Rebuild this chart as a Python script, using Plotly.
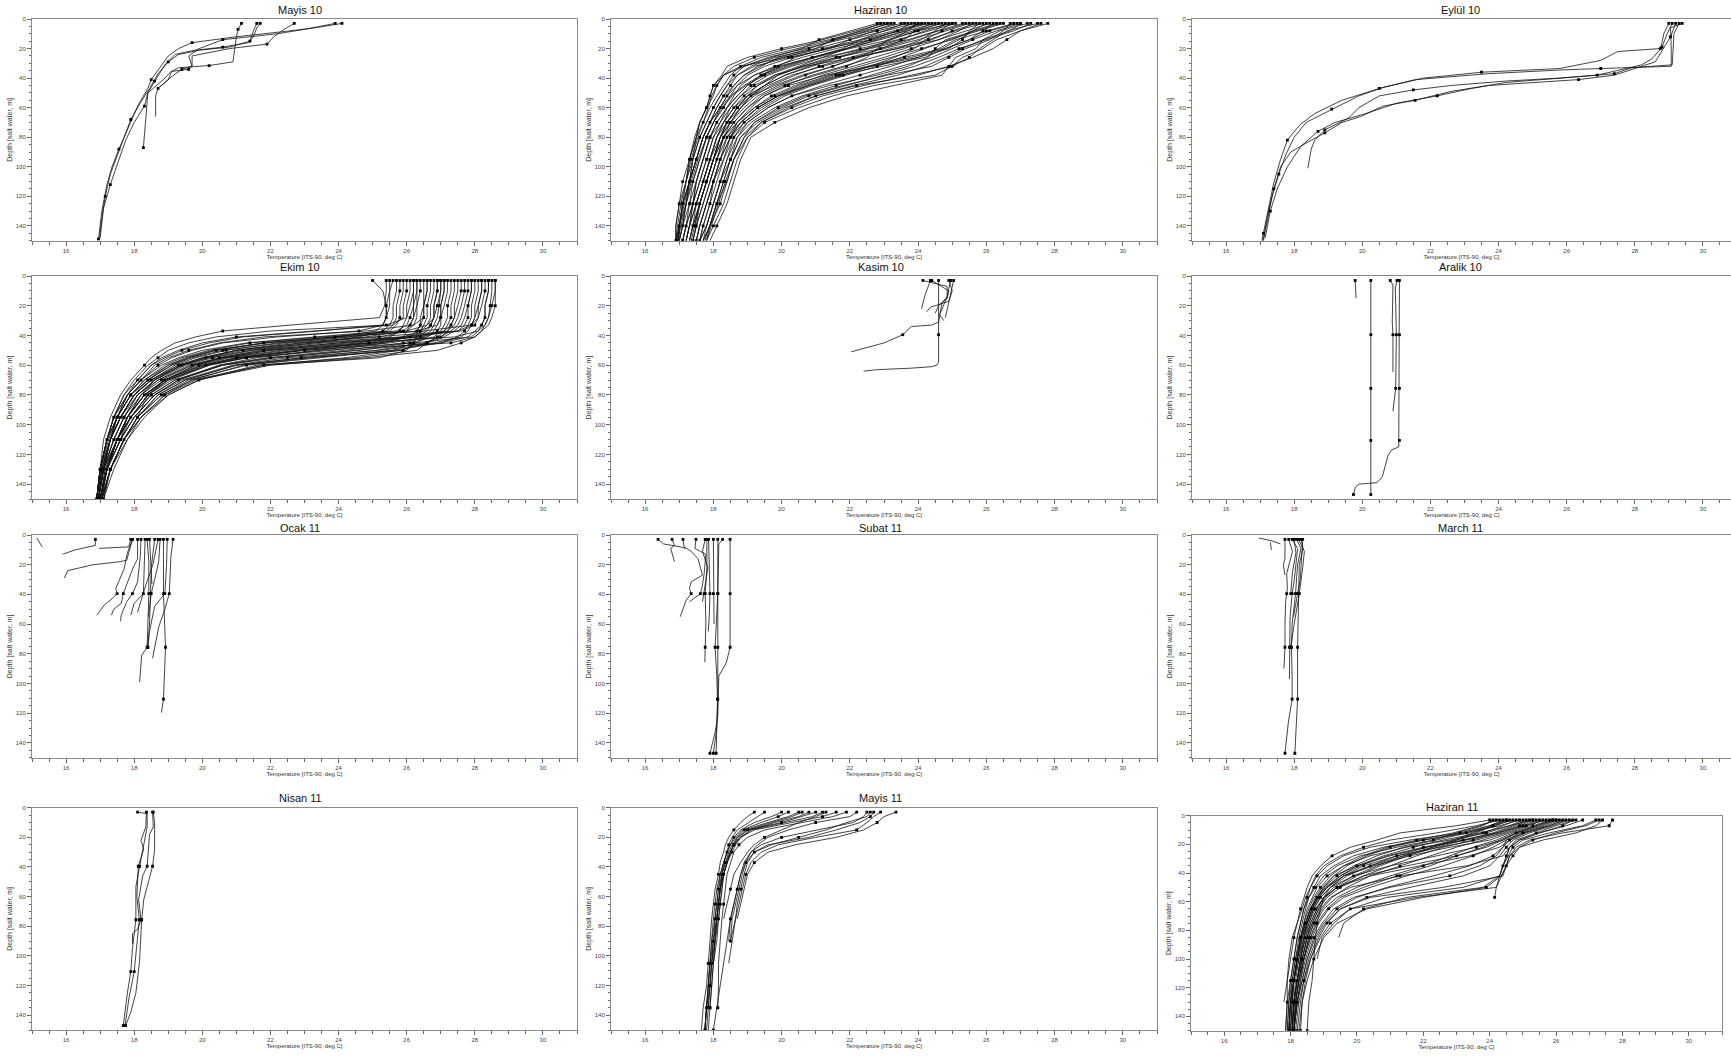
import plotly.graph_objects as go

# ---------------- DATA (temperature, deg C ; depth, m) ----------------
STD_DEPTHS = (3, 39.5, 75.6, 110.6, 147)

# Mayis 10 : (temps, depths)
MAYIS10 = [
    ([24.1, 23.3, 22.4, 21.0, 19.7, 19.3, 19.0, 18.75, 18.5, 18.4, 18.1, 17.8, 17.55, 17.35, 17.2, 17.05, 16.95],
     [3, 6, 8.5, 12, 16, 20, 25, 33, 41, 47, 59, 75, 88, 100, 112, 130, 149]),
    ([23.9, 23.0, 22.2, 20.6, 19.8, 19.2, 18.9, 18.6, 18.4, 18.35, 18.3, 18.27],
     [3, 7, 10, 14, 21, 24, 31, 42, 50, 65, 80, 87]),
    ([21.6, 21.5, 21.4, 20.8, 19.95, 19.3, 19.0, 18.7, 18.45, 18.2, 17.9, 17.7, 17.5, 17.3, 17.15, 17.05, 16.98],
     [3, 8, 15, 19, 21, 24, 29, 37, 47, 56, 68, 80, 92, 105, 120, 135, 149]),
    ([21.15, 21.05, 21.0, 20.95, 20.9, 20.2, 19.3, 19.1, 19.0, 18.7, 18.63, 18.63],
     [3, 7, 12, 21, 29, 31.5, 33, 35.5, 41, 47, 52, 66]),
    ([21.7, 21.6, 21.5, 21.35, 20.6, 19.85, 19.6, 19.7, 19.6, 19.08, 18.86, 18.4, 18.3, 18.0, 17.75, 17.5, 17.3, 17.1, 17.0],
     [3, 6, 12, 16, 19, 21, 25, 32, 34, 35.5, 41, 50, 59, 70, 82, 98, 112, 128, 148]),
    ([22.7, 22.4, 22.1, 21.9, 20.8, 19.7, 19.7, 19.4, 19.1, 18.75],
     [3, 7, 12, 17, 20, 25, 32, 34, 39, 46]),
]

# Haziran 10 : common depth grid, one temperature list per cast
HAZIRAN10_D = [3, 8, 14, 20, 26, 32, 38, 45, 52, 60, 70, 80, 95, 110, 125, 140, 150]
HAZIRAN10_T = [
    [27.8, 27.0, 26.3, 25.9, 25.3, 25.0, 24.5, 22.7, 21.5, 20.5, 19.5, 19.0, 18.7, 18.5, 18.3, 18.0, 17.8],
    [27.5, 26.6, 26.2, 25.8, 25.5, 25.0, 23.8, 22.4, 21.2, 20.3, 19.4, 18.9, 18.6, 18.4, 18.2, 17.9, 17.8],
    [27.3, 26.8, 26.0, 25.2, 24.6, 23.9, 23.0, 21.9, 20.8, 20.0, 19.2, 18.8, 18.5, 18.3, 18.1, 17.9, 17.7],
    [27.0, 26.3, 25.6, 25.0, 24.4, 23.5, 22.6, 21.6, 20.6, 19.8, 19.1, 18.7, 18.5, 18.2, 18.0, 17.8, 17.7],
    [26.8, 26.0, 25.1, 24.6, 24.0, 23.2, 22.3, 21.2, 20.3, 19.6, 19.0, 18.6, 18.4, 18.2, 18.0, 17.8, 17.6],
    [26.5, 25.8, 24.9, 24.2, 23.5, 22.8, 21.9, 20.9, 20.1, 19.5, 18.9, 18.6, 18.3, 18.1, 17.9, 17.7, 17.6],
    [26.3, 25.6, 25.2, 24.7, 23.6, 22.5, 21.5, 20.6, 19.9, 19.3, 18.8, 18.5, 18.3, 18.0, 17.9, 17.7, 17.6],
    [26.1, 25.4, 24.6, 23.8, 23.0, 22.1, 21.2, 20.4, 19.7, 19.2, 18.7, 18.4, 18.2, 18.0, 17.8, 17.6, 17.5],
    [25.9, 25.1, 24.3, 23.6, 22.7, 21.8, 20.9, 20.1, 19.5, 19.0, 18.6, 18.3, 18.1, 17.9, 17.7, 17.5, 17.4],
    [25.7, 25.0, 24.4, 23.2, 22.3, 21.5, 20.7, 19.9, 19.3, 18.9, 18.5, 18.3, 18.0, 17.8, 17.6, 17.5, 17.4],
    [25.5, 24.8, 24.0, 23.0, 22.0, 21.1, 20.4, 19.7, 19.2, 18.8, 18.4, 18.2, 18.0, 17.8, 17.6, 17.4, 17.3],
    [25.3, 24.6, 23.7, 22.6, 21.7, 20.9, 20.1, 19.5, 19.0, 18.7, 18.4, 18.1, 17.9, 17.7, 17.5, 17.4, 17.3],
    [25.1, 24.3, 23.4, 22.3, 21.4, 20.6, 19.9, 19.3, 18.9, 18.6, 18.3, 18.1, 17.9, 17.7, 17.5, 17.3, 17.2],
    [24.9, 24.2, 23.5, 22.5, 21.2, 20.3, 19.6, 19.1, 18.8, 18.5, 18.2, 18.0, 17.8, 17.6, 17.4, 17.3, 17.2],
    [24.7, 23.9, 22.9, 21.9, 20.9, 20.0, 19.4, 19.0, 18.7, 18.4, 18.2, 17.9, 17.7, 17.5, 17.4, 17.2, 17.1],
    [24.5, 23.7, 22.7, 21.6, 20.6, 19.8, 19.2, 18.8, 18.6, 18.4, 18.1, 17.9, 17.7, 17.5, 17.3, 17.2, 17.1],
    [24.3, 23.5, 22.4, 21.4, 20.3, 19.5, 19.0, 18.7, 18.5, 18.3, 18.0, 17.8, 17.6, 17.4, 17.3, 17.1, 17.0],
    [24.1, 23.3, 22.3, 21.2, 20.0, 19.3, 18.9, 18.6, 18.4, 18.2, 18.0, 17.8, 17.6, 17.4, 17.2, 17.1, 17.0],
    [23.9, 23.0, 22.0, 21.0, 19.8, 19.1, 18.7, 18.5, 18.3, 18.1, 17.9, 17.7, 17.5, 17.3, 17.2, 17.0, 17.0],
    [23.7, 22.8, 21.8, 20.7, 19.6, 18.9, 18.6, 18.4, 18.2, 18.0, 17.8, 17.6, 17.4, 17.3, 17.1, 17.0, 16.9],
    [23.5, 22.6, 21.6, 20.5, 19.4, 18.8, 18.5, 18.3, 18.1, 17.9, 17.7, 17.5, 17.4, 17.2, 17.1, 17.0, 16.9],
    [23.2, 22.4, 21.4, 20.2, 19.2, 18.6, 18.3, 18.1, 18.0, 17.8, 17.6, 17.5, 17.3, 17.2, 17.0, 16.9, 16.9],
    [23.0, 22.2, 21.2, 20.0, 19.0, 18.4, 18.25, 18.0, 17.9, 17.8, 17.6, 17.45, 17.3, 17.1, 17.0, 16.9, 16.9],
    [22.8, 22.0, 21.1, 20.6, 19.7, 18.9, 18.3, 18.0, 17.9, 17.8, 17.6, 17.5, 17.3, 17.2],
    [26.9, 26.1, 25.5, 24.8, 24.2, 22.9, 21.7, 20.8, 20.0, 19.4, 18.9, 18.5],
    [25.0, 24.6, 23.8, 22.9, 22.2, 21.5, 20.6, 19.8, 19.1, 18.7, 18.4, 18.2, 17.9, 17.7, 17.5],
    [24.0, 23.6, 22.8, 21.9, 20.9, 20.1, 19.4, 18.9, 18.5, 18.2, 17.9, 17.7, 17.5, 17.3, 17.1, 17.0, 16.95],
    [26.0, 25.6, 25.0, 24.1, 23.2, 22.3, 21.4, 20.5, 19.8, 19.2, 18.7, 18.3, 18.0, 17.8],
    [27.6, 27.0, 26.6, 26.2, 25.6, 24.9, 24.0, 22.2, 21.0, 20.1, 19.3, 18.8, 18.5, 18.3, 18.1, 17.9, 17.75],
    [24.6, 24.0, 23.2, 22.0, 21.0, 20.2, 19.5, 18.95, 18.55, 18.25, 18.0, 17.8, 17.55, 17.35, 17.2, 17.05, 16.95],
    [27.2, 26.4, 25.9, 25.7, 25.1, 24.9, 24.7, 23.3, 21.9, 20.8, 19.8, 19.1, 18.8, 18.6, 18.4, 18.1, 17.9],
    [26.7, 26.5, 26.1, 25.4, 24.9, 24.4, 23.1, 21.8, 20.7, 19.9, 19.2, 18.9, 18.6, 18.4, 18.1, 17.9, 17.7],
    [26.4, 25.7, 24.8, 24.5, 24.3, 23.7, 22.8, 21.4, 20.3, 19.6, 19.0, 18.7, 18.4, 18.2, 18.0, 17.8, 17.6],
    [25.8, 25.5, 25.3, 24.9, 24.0, 22.6, 21.3, 20.2, 19.5, 19.1, 18.7, 18.5, 18.2, 18.0, 17.8, 17.6, 17.5],
    [25.4, 24.7, 24.2, 23.9, 23.3, 22.6, 21.8, 20.8, 19.9, 19.3, 18.8, 18.5, 18.2, 18.0, 17.8, 17.6, 17.5],
    [25.0, 24.0, 23.1, 22.8, 22.5, 21.9, 21.0, 20.0, 19.4, 19.0, 18.6, 18.3, 18.1, 17.9, 17.7, 17.5, 17.4],
    [24.8, 24.5, 24.1, 23.4, 22.1, 20.7, 19.8, 19.3, 19.0, 18.7, 18.4, 18.2, 18.0, 17.8, 17.6, 17.45, 17.35],
    [24.4, 23.9, 23.6, 22.9, 21.6, 20.6, 19.9, 19.5, 19.1, 18.8, 18.5, 18.2, 18.0, 17.8, 17.6, 17.4, 17.3],
    [24.2, 23.4, 22.6, 21.9, 21.2, 20.5, 19.8, 19.2, 18.8, 18.5, 18.3, 18.1, 17.9, 17.7, 17.5, 17.3, 17.2],
    [23.8, 23.4, 22.6, 21.3, 20.4, 19.9, 19.4, 19.0, 18.7, 18.4, 18.1, 17.9, 17.7, 17.5, 17.4, 17.2, 17.1],
    [23.6, 23.0, 22.3, 21.8, 20.9, 19.9, 19.2, 18.7, 18.4, 18.2, 17.9, 17.7, 17.5, 17.3, 17.2, 17.1, 17.0],
    [23.3, 22.7, 22.0, 21.4, 20.2, 19.2, 18.7, 18.4, 18.2, 18.0, 17.8, 17.6, 17.4, 17.3, 17.1, 17.0, 16.95],
    [23.1, 22.5, 21.6, 20.8, 19.9, 19.4, 18.9, 18.6, 18.3, 18.1, 17.9, 17.7, 17.5, 17.3, 17.15, 17.0, 16.95],
    [22.9, 22.3, 21.5, 21.0, 20.1, 18.8, 18.3, 18.1, 17.95, 17.85, 17.7, 17.55, 17.35, 17.2, 17.05, 16.95, 16.9],
    [26.2, 25.9, 25.5, 24.8, 23.8, 22.6, 21.6, 20.7, 19.9, 19.3, 18.8, 18.4, 18.1, 17.9],
    [25.6, 25.2, 24.6, 23.4, 22.2, 21.2, 20.3, 19.6, 19.1, 18.8, 18.5, 18.2, 18.0, 17.8, 17.6, 17.45],
    [24.0, 23.7, 23.2, 22.5, 21.6, 20.8, 20.1, 19.5, 19.0, 18.6, 18.3, 18.0, 17.8, 17.6, 17.4, 17.3, 17.2],
    [27.0, 26.7, 25.9, 25.3, 24.8, 24.2, 23.4, 22.1, 21.0, 20.2, 19.4, 19.0, 18.6, 18.35, 18.15, 17.95, 17.8],
]

# Eylul 10 : (temps, depths)
EYLUL10 = [
    ([29.39, 29.05, 29.07, 29.07, 27.0, 25.8, 23.7, 21.56, 20.5, 19.4, 18.6, 18.15, 17.8, 17.6, 17.4, 17.25, 17.1, 17.05],
     [3, 6, 20, 32, 33.5, 34.5, 37, 41, 47, 55, 64, 72, 82, 95, 111, 127, 145, 150]),
    ([29.0, 28.85, 28.8, 28.75, 27.5, 27.0, 25.8, 23.5, 21.8, 20.65, 19.9, 19.1, 18.35, 18.0, 17.75, 17.55, 17.35, 17.2, 17.08],
     [3, 10, 16, 20, 22, 28, 33.5, 36, 40, 46, 52, 61, 70, 80, 92, 105, 120, 138, 150]),
    ([29.1, 28.95, 28.8, 28.5, 28.2, 27.85, 26.9, 25.8, 24.2, 22.6, 21.5, 20.5, 19.9, 19.6, 18.9, 18.6, 18.5, 18.4],
     [3, 10, 19, 27, 31, 33, 38, 40, 42, 45, 48, 52, 60, 67, 75, 82, 88, 101]),
    ([29.2, 29.05, 28.6, 28.05, 27.4, 26.35, 24.75, 23.7, 22.6, 21.55, 20.6, 19.95, 19.4, 18.9, 18.35, 17.9, 17.6, 17.4, 17.2, 17.1],
     [3, 12, 29, 33, 38, 41, 43.5, 45, 49, 55, 59, 66, 70, 77, 84, 90, 100, 115, 135, 150]),
    ([29.3, 29.15, 29.1, 27.9, 27.4, 25.8, 24.2, 23.2, 22.2, 21.0, 20.1, 19.2, 18.7, 18.2, 17.8, 17.5, 17.3, 17.15],
     [3, 10, 31, 33, 37, 40, 43, 47, 52, 57, 64, 70, 76, 86, 100, 115, 130, 148]),
]

# Ekim 10 : common depth grid
EKIM10_D = [3, 10, 20, 28, 33, 37, 41, 45, 50, 55, 60, 70, 80, 95, 110, 130, 150]
EKIM10_T = [
    [25.4, 25.4, 25.35, 25.2, 22.6, 20.6, 19.8, 19.2, 18.8, 18.5, 18.3, 17.9, 17.6, 17.3, 17.1, 17.0, 16.9],
    [26.2, 26.2, 26.1, 26.0, 25.4, 22.0, 20.4, 19.6, 19.0, 18.7, 18.4, 18.0, 17.7, 17.4, 17.2, 17.0, 16.9],
    [26.6, 26.6, 26.5, 26.5, 26.2, 24.8, 21.8, 20.5, 19.6, 19.0, 18.6, 18.2, 17.8, 17.5, 17.3, 17.0, 16.9],
    [27.0, 27.0, 26.9, 26.8, 26.6, 26.0, 23.5, 21.4, 20.2, 19.4, 18.9, 18.3, 17.9, 17.5, 17.3, 17.05, 16.9],
    [28.3, 28.3, 28.2, 28.1, 27.9, 26.5, 23.9, 21.8, 20.4, 19.6, 19.0, 18.4, 18.0, 17.6, 17.3, 17.1, 16.95],
    [25.6, 25.5, 25.5, 25.4, 25.3, 24.6, 22.2, 20.6, 19.7, 19.1, 18.7, 18.2, 17.8, 17.5, 17.2, 17.0, 16.9],
    [26.9, 26.9, 26.8, 26.8, 26.7, 26.6, 26.3, 24.0, 21.7, 20.5, 19.8, 18.9, 18.3, 17.8, 17.5, 17.2, 17.0],
    [27.9, 27.9, 27.8, 27.8, 27.7, 27.5, 25.8, 23.3, 21.2, 20.1, 19.4, 18.6, 18.1, 17.7, 17.4, 17.1, 16.95],
    [28.6, 28.6, 28.5, 28.4, 28.3, 28.1, 27.4, 24.9, 22.3, 20.7, 19.8, 18.9, 18.3, 17.8, 17.5, 17.2, 17.0],
    [26.4, 26.4, 26.3, 26.3, 26.2, 26.0, 25.2, 23.0, 21.0, 20.0, 19.3, 18.5, 18.0, 17.6, 17.3, 17.1, 16.95],
    [27.2, 27.2, 27.1, 27.0, 27.0, 26.9, 26.6, 25.5, 23.0, 21.2, 20.1, 19.0, 18.4, 17.9, 17.5, 17.2, 17.0],
    [28.1, 28.1, 28.0, 28.0, 27.9, 27.8, 27.6, 26.8, 24.5, 22.0, 20.6, 19.3, 18.6, 18.0, 17.6, 17.2, 17.05],
    [25.9, 25.9, 25.8, 25.8, 25.7, 25.5, 24.4, 22.4, 20.6, 19.7, 19.1, 18.4, 17.9, 17.5, 17.3, 17.05, 16.9],
    [26.7, 26.7, 26.6, 26.6, 26.5, 26.4, 26.3, 26.2, 25.6, 23.2, 21.2, 19.7, 18.9, 18.2, 17.7, 17.3, 17.1],
    [27.6, 27.6, 27.5, 27.4, 27.3, 27.1, 26.9, 26.6, 26.3, 24.5, 21.6, 19.9, 19.0, 18.3, 17.8, 17.4, 17.1],
    [26.1, 26.1, 26.0, 26.0, 25.9, 25.8, 25.5, 24.6, 22.0, 20.6, 19.7, 18.7, 18.1, 17.6, 17.3, 17.1, 16.95],
    [28.4, 28.4, 28.3, 28.3, 28.2, 28.0, 27.8, 27.0, 25.2, 22.5, 20.9, 19.4, 18.6, 18.0, 17.6, 17.2, 17.05],
    [25.0, 25.3, 25.4, 25.4, 25.3, 23.4, 21.2, 20.2, 19.4, 18.9, 18.5, 18.1, 17.7, 17.4, 17.2, 17.0, 16.9],
    [27.0, 27.0, 26.95, 26.9, 26.8, 26.7, 26.5, 25.9, 24.2, 21.9, 20.5, 19.2, 18.5, 17.9, 17.6, 17.2, 17.0],
    [27.8, 27.8, 27.7, 27.6, 27.5, 27.3, 27.0, 25.0, 22.8, 21.0, 20.0, 18.9, 18.3, 17.8, 17.5, 17.15, 17.0],
    [26.5, 26.5, 26.5, 26.4, 26.4, 26.3, 26.3, 26.2, 26.0, 25.2, 21.8, 19.9, 19.0, 18.2, 17.8, 17.3, 17.1],
    [26.3, 26.3, 26.2, 26.2, 26.1, 26.0, 25.9, 25.4, 23.8, 21.3, 20.2, 19.0, 18.3, 17.8, 17.5, 17.1, 16.95],
    [27.4, 27.4, 27.3, 27.3, 27.2, 27.1, 26.2, 24.0, 21.8, 20.5, 19.6, 18.7, 18.2, 17.7, 17.4, 17.1, 16.95],
    [28.5, 28.5, 28.45, 28.4, 28.3, 28.2, 28.0, 27.3, 23.5, 21.3, 20.2, 19.1, 18.4, 17.9, 17.5, 17.2, 17.0],
    [25.8, 25.8, 25.7, 25.7, 25.6, 25.4, 23.3, 21.3, 20.0, 19.3, 18.8, 18.2, 17.8, 17.4, 17.2, 17.0, 16.9],
    [26.8, 26.8, 26.7, 26.7, 26.6, 26.4, 25.9, 24.8, 22.5, 20.8, 19.9, 18.9, 18.4, 18.1],
    [28.2, 28.2, 28.1, 28.0, 27.9, 27.5, 25.0, 22.6, 21.0, 20.1, 19.4, 18.6, 18.2, 17.8, 17.6],
    [27.1, 27.1, 27.0, 27.0, 26.9, 26.8, 26.6, 26.3, 25.9, 23.0, 21.0, 19.5, 18.7, 18.1, 17.7, 17.3, 17.05],
    [25.5, 25.5, 25.4, 25.4, 25.3, 25.1, 24.0, 21.8, 20.3, 19.5, 19.0, 18.3, 17.9, 17.5, 17.2, 17.0, 16.9],
    [26.0, 26.0, 25.9, 25.9, 25.6, 23.2, 21.0, 20.0, 19.3, 18.8, 18.5, 18.1, 17.8, 17.4, 17.2, 17.0, 16.9],
    [26.3, 26.3, 26.3, 26.2, 26.1, 25.9, 24.8, 22.9, 21.0, 20.0, 19.3, 18.5, 18.0, 17.6, 17.3, 17.05, 16.95],
    [26.6, 26.6, 26.5, 26.5, 26.4, 26.3, 26.1, 25.0, 22.8, 21.0, 20.0, 18.9, 18.3, 17.8, 17.5, 17.15, 17.0],
    [27.1, 27.1, 27.0, 27.0, 26.9, 26.3, 24.2, 22.2, 20.7, 19.8, 19.2, 18.5, 18.0, 17.6, 17.3, 17.1, 16.95],
    [27.3, 27.3, 27.2, 27.2, 27.1, 27.0, 26.8, 26.1, 24.6, 22.2, 20.6, 19.2, 18.5, 17.9, 17.5, 17.2, 17.0],
    [27.7, 27.7, 27.6, 27.5, 27.4, 27.2, 26.4, 24.3, 22.0, 20.6, 19.7, 18.8, 18.2, 17.8, 17.5, 17.1, 16.95],
    [28.0, 28.0, 27.9, 27.9, 27.8, 27.7, 27.5, 27.0, 25.6, 23.4, 21.3, 19.6, 18.8, 18.1, 17.7, 17.3, 17.05],
    [28.2, 28.2, 28.1, 28.1, 28.0, 27.6, 26.0, 23.6, 21.5, 20.3, 19.5, 18.6, 18.1, 17.7, 17.4, 17.1, 16.95],
    [28.4, 28.4, 28.3, 28.3, 28.2, 28.1, 27.9, 26.2, 23.0, 21.1, 20.1, 19.0, 18.4, 17.9, 17.5, 17.2, 17.0],
    [28.6, 28.6, 28.6, 28.5, 28.4, 28.2, 28.0, 27.6, 26.9, 24.8, 22.0, 19.8, 18.9, 18.2, 17.7, 17.3, 17.05],
    [26.9, 26.9, 26.8, 26.8, 26.7, 26.5, 26.1, 25.2, 23.4, 21.6, 20.5, 19.3, 18.6, 18.0, 17.6, 17.2, 17.0],
    [25.7, 25.7, 25.6, 25.6, 25.5, 25.3, 24.6, 23.3, 21.4, 20.2, 19.4, 18.5, 18.0, 17.6, 17.3, 17.05, 16.9],
    [27.5, 27.5, 27.4, 27.4, 27.3, 27.2, 27.0, 26.5, 25.1, 22.9, 21.0, 19.5, 18.7, 18.1, 17.7, 17.3, 17.05],
    [26.2, 26.2, 26.2, 26.1, 26.0, 25.7, 23.9, 21.9, 20.4, 19.6, 19.1, 18.4, 17.9, 17.5, 17.25, 17.0, 16.9],
    [27.9, 27.9, 27.8, 27.7, 27.6, 27.4, 27.1, 26.6, 25.8, 24.2, 21.8, 19.7, 18.8, 18.1, 17.7, 17.3, 17.05],
]

# Kasim 10 : (temps, depths)
KASIM10 = [
    ([24.14, 24.5, 24.85, 24.85, 24.7, 24.6, 24.4, 23.8, 23.55, 23.0, 22.04], [3, 5, 7, 14, 18, 31, 33, 34, 39.5, 45, 51]),
    ([24.36, 24.2, 24.1], [3, 13, 22]),
    ([24.6, 24.6, 24.6, 24.55, 24.4, 23.8, 22.8, 22.4], [3, 39.5, 58, 60, 61, 62, 63, 64]),
    ([24.9, 25.0, 24.9, 24.36, 24.25], [3, 10, 17, 21, 24]),
    ([24.95, 24.85, 24.63, 24.75], [3, 14, 26, 30]),
    ([25.04, 24.95, 24.85, 24.8], [3, 12, 21, 28]),
    ([24.4, 24.9, 24.85, 24.6, 24.5], [3, 10, 15, 20, 25]),
]

# Aralik 10 : (temps, depths)
ARALIK10 = [
    ([19.79, 19.82], [3, 15]),
    ([20.25, 20.25, 20.25, 20.25, 20.25], [3, 39.5, 75.6, 110.6, 147]),
    ([20.82, 20.9, 20.88, 20.9, 20.9], [3, 6, 31, 39.5, 64.5]),
    ([21.02, 20.97, 21.0, 20.98, 20.9], [3, 8, 39.5, 75.6, 91]),
    ([21.09, 21.09, 21.09, 21.09, 21.07, 20.86, 20.75, 20.59, 20.43, 19.9, 19.8, 19.74],
     [3, 39.5, 75.6, 110.6, 115, 117, 121, 135, 139, 140, 142, 147]),
]

# Ocak 11 : (temps, depths)
OCAK11 = [
    ([15.14, 15.3], [2, 8]),
    ([16.86, 16.86, 16.27, 15.9], [3, 7, 10, 13]),
    ([17.9, 17.84, 16.97], [3, 8, 9]),
    ([17.95, 17.78, 17.57, 16.8, 16.05, 15.95], [3, 17, 18, 20, 24, 29]),
    ([17.95, 17.8, 17.7, 17.46, 17.5, 17.35, 17.13, 16.9], [3, 12, 23, 36, 39.5, 43, 47, 54]),
    ([18.1, 18.1, 17.95, 17.68, 17.62, 17.4, 17.33], [3, 16, 23, 39.5, 46, 50, 54]),
    ([18.2, 18.18, 18.1, 17.95, 17.78, 17.62, 17.6], [3, 14, 31.6, 39.5, 45, 54, 58]),
    ([18.32, 18.3, 18.27, 18.0, 17.9], [3, 16, 39.5, 46, 54]),
    ([18.38, 18.43, 18.43, 18.41, 18.38, 18.22, 18.16, 18.16], [3, 18, 39.5, 60, 75.6, 81, 95, 99]),
    ([18.6, 18.5, 18.48, 18.45, 18.4], [3, 22, 39.5, 60, 75.6]),
    ([18.76, 18.72, 18.6, 18.5, 18.42], [3, 18, 30, 39.5, 55]),
    ([18.86, 18.86, 18.86, 18.92, 18.88, 18.86, 18.8], [3, 20, 39.5, 75.6, 95, 110.6, 119.6]),
    ([18.97, 18.95, 18.9, 18.6, 18.45, 18.4], [3, 20, 39.5, 48, 65, 75.6]),
    ([19.14, 19.08, 19.03, 18.9, 18.72, 18.62, 18.54], [3, 14, 39.5, 50, 62, 75, 83]),
    ([18.7, 18.55, 18.35, 18.22, 18.1], [3, 20, 33, 43, 52]),
    ([18.45, 18.5, 18.52], [3, 20, 33]),
]

# Subat 11 : (temps, depths)
SUBAT11 = [
    ([16.38, 16.54, 17.03, 17.19], [3, 6, 8, 9]),
    ([16.79, 16.86, 16.75, 16.8, 16.86], [3, 7, 9, 13, 18]),
    ([17.11, 17.14, 17.35, 17.55, 17.68, 17.35, 17.3, 17.35, 17.2, 17.08, 17.03], [3, 8, 11, 16, 27, 31.6, 36, 39.5, 44, 52, 55]),
    ([17.49, 17.46, 17.62, 17.78, 17.73, 17.68, 17.62, 17.4, 17.3], [3, 9, 11, 13, 26, 34, 39.5, 43, 45]),
    ([17.76, 17.68, 17.84, 17.73, 17.68], [3, 11, 22, 39.5, 45]),
    ([17.81, 17.81, 17.76, 17.78, 17.76, 17.75], [3, 22, 39.5, 58.6, 75.6, 85.7]),
    ([17.86, 17.88, 17.9, 17.88, 17.85], [3, 20, 39.5, 55, 65]),
    ([18.0, 18.0, 18.0, 18.02], [3, 20, 39.5, 60]),
    ([18.13, 18.13, 18.13, 18.13, 18.13, 18.1, 18.08], [3, 39.5, 75.6, 95, 110.6, 130, 147]),
    ([18.27, 18.16, 18.13, 18.08, 18.05, 18.1, 18.12, 18.1, 18.0], [3, 6, 39.5, 58, 75.6, 95, 110.6, 130, 147]),
    ([18.49, 18.49, 18.49, 18.49, 18.38, 18.16, 18.13, 18.05, 17.9], [3, 39.5, 60, 75.6, 86, 95, 122, 133, 147]),
]

# March 11 : (temps, depths)
MARCH11 = [
    ([16.96, 17.35, 17.6], [2, 4, 6]),
    ([17.3, 17.33], [5, 10]),
    ([17.73, 17.73, 17.68, 17.73], [3, 16, 20, 27]),
    ([17.84, 17.95, 17.78, 17.8, 17.78, 17.75, 17.73, 17.73, 17.7], [3, 11, 26, 36, 39.5, 45, 60, 75.6, 90]),
    ([17.94, 18.1, 18.0, 17.94, 17.88, 17.86, 17.86], [3, 9, 31, 39.5, 55, 75.6, 97]),
    ([18.07, 18.2, 18.1, 18.04, 17.94, 17.92, 17.94, 17.94, 17.83, 17.73], [3, 9, 20, 39.5, 60, 75.6, 95, 110.6, 126, 147]),
    ([18.2, 18.26, 18.15, 18.13, 18.12, 18.1, 18.1, 18.06, 18.02], [3, 9, 20, 39.5, 55, 75.6, 110.6, 130, 147]),
    ([18.13, 18.3, 18.25, 18.15, 18.0, 17.9], [3, 11, 22, 39.5, 60, 75.6]),
    ([18.25, 18.22, 18.18, 18.1, 17.98], [3, 15, 30, 39.5, 55]),
    ([18.0, 18.05, 17.95, 17.9], [3, 12, 25, 39.5]),
]

# Nisan 11 : (temps, depths)
NISAN11 = [
    ([18.1, 18.38, 18.38, 18.27, 18.16, 18.05, 18.05, 17.95, 17.9, 17.8, 17.68], [3, 4, 13, 26, 39.5, 53, 75.6, 95, 110.6, 125, 147]),
    ([18.36, 18.34, 18.2, 18.28, 18.12, 18.08, 18.15, 18.0, 17.85, 17.73], [3, 13, 22, 28, 39.5, 60, 75.6, 110.6, 128, 147]),
    ([18.54, 18.56, 18.45, 18.38, 18.25, 18.13, 18.2, 18.1, 17.95, 17.95], [3, 13, 18, 39.5, 46, 62, 75.6, 82, 85, 92]),
    ([18.56, 18.6, 18.6, 18.54, 18.43, 18.28, 18.22, 18.16, 18.05, 17.9, 17.75], [3, 10, 28, 39.5, 49, 62, 75.6, 103, 125, 138, 147]),
]

# Mayis 11 : common depth grid
MAYIS11_D = [3, 6, 10, 15, 20, 25, 30, 37, 45, 55, 65, 75, 90, 105, 120, 135, 150]
MAYIS11_T = [
    [19.5, 19.3, 19.0, 18.7, 18.55, 18.45, 18.4, 18.3, 18.2, 18.1, 18.05, 18.0, 17.95, 17.9, 17.85, 17.8, 17.75],
    [20.0, 19.7, 19.2, 18.8, 18.6, 18.5, 18.4, 18.3, 18.25, 18.15, 18.1, 18.05, 18.0, 17.95, 17.9, 17.85, 17.8],
    [20.5, 20.2, 19.6, 18.9, 18.7, 18.55, 18.45, 18.35, 18.25, 18.2, 18.15, 18.1, 18.05, 17.95, 17.9, 17.85],
    [21.0, 20.6, 20.0, 19.0, 18.75, 18.6, 18.5, 18.35, 18.25, 18.2, 18.15, 18.1, 18.0, 17.95, 17.9, 17.8, 17.75],
    [21.6, 21.2, 20.3, 19.2, 18.8, 18.65, 18.55, 18.4, 18.3, 18.25, 18.2, 18.15, 18.1, 18.0],
    [21.9, 21.5, 20.6, 19.5, 19.0, 18.75, 18.6, 18.5, 18.4, 18.35, 18.3, 18.25, 18.2, 18.15, 18.15, 18.13],
    [22.6, 22.5, 21.9, 21.3, 20.5, 19.7, 19.2, 19.0, 18.9, 18.8, 18.7, 18.65, 18.55, 18.45],
    [22.9, 22.7, 22.5, 22.2, 21.0, 19.9, 19.4, 19.1, 18.95, 18.85, 18.75, 18.65, 18.5],
    [23.35, 23.0, 22.8, 22.4, 21.6, 20.4, 19.6, 19.2, 19.0, 18.9, 18.8, 18.7],
    [22.7, 22.6, 22.3, 21.6, 20.8, 19.6, 19.2, 18.95, 18.8, 18.7, 18.6, 18.5, 18.4, 18.3, 18.2, 18.1, 18.0],
    [20.8, 20.5, 19.8, 19.1, 18.8, 18.6, 18.5, 18.4, 18.3, 18.25, 18.2, 18.15, 18.05, 18.0, 17.95, 17.9, 17.85],
    [21.3, 21.0, 20.5, 20.0, 19.5, 19.2, 19.0, 18.8, 18.6, 18.5, 18.4, 18.3],
    [19.2, 19.0, 18.8, 18.6, 18.45, 18.35, 18.3, 18.2, 18.15, 18.05, 18.0, 17.95, 17.9, 17.85, 17.8, 17.7, 17.65],
    [22.2, 22.0, 21.0, 20.2, 19.6, 19.3, 19.1, 18.95, 18.85, 18.75, 18.65, 18.55, 18.5],
    [20.2, 19.9, 19.4, 18.85, 18.65, 18.5, 18.4, 18.3, 18.2, 18.15, 18.1, 18.05, 17.95, 17.9, 17.85, 17.8, 17.75],
    [21.2, 20.9, 20.1, 19.1, 18.8, 18.6, 18.5, 18.4, 18.3, 18.2, 18.15, 18.1, 18.05, 18.0, 17.95, 17.9],
    [22.5, 22.4, 22.1, 21.0, 20.0, 19.4, 19.1, 18.9, 18.8, 18.7, 18.6, 18.5, 18.45],
    [20.6, 20.3, 19.7, 19.0, 18.7, 18.6, 18.5, 18.4, 18.3, 18.2, 18.15, 18.1, 18.0, 17.9, 17.85, 17.8, 17.75],
]

# Haziran 11 : common depth grid
HAZIRAN11_D = [3, 7, 12, 17, 22, 28, 35, 42, 50, 57, 65, 75, 85, 100, 115, 130, 150]
HAZIRAN11_T = [
    [24.0, 23.0, 21.3, 20.6, 19.8, 19.25, 18.9, 18.65, 18.5, 18.4, 18.3, 18.2, 18.05, 17.95, 17.9, 17.9, 17.85],
    [24.3, 23.6, 22.4, 21.0, 20.2, 19.5, 19.0, 18.75, 18.6, 18.5, 18.4, 18.3, 18.2, 18.1, 18.0, 17.95, 17.9],
    [24.6, 24.2, 23.4, 22.0, 20.8, 19.9, 19.3, 18.9, 18.7, 18.55, 18.45, 18.35, 18.25, 18.15, 18.05, 18.0, 17.95],
    [25.0, 24.6, 23.9, 22.8, 21.5, 20.4, 19.6, 19.1, 18.8, 18.65, 18.5, 18.4, 18.3, 18.2, 18.1, 18.05, 18.0],
    [25.3, 24.9, 24.3, 23.3, 22.1, 21.0, 20.0, 19.3, 18.95, 18.75, 18.6, 18.45, 18.35, 18.25, 18.15, 18.1, 18.05],
    [25.6, 25.2, 24.6, 24.0, 22.8, 21.6, 20.5, 19.6, 19.1, 18.85, 18.65, 18.5, 18.4, 18.3, 18.2, 18.1, 18.05],
    [25.9, 25.4, 24.8, 24.4, 23.6, 22.4, 21.0, 19.9, 19.2, 18.9, 18.7, 18.55, 18.45, 18.3, 18.2],
    [26.2, 25.8, 25.0, 24.6, 24.3, 23.4, 21.9, 20.4, 19.4, 19.0, 18.8, 18.6, 18.5, 18.35, 18.25, 18.15, 18.1],
    [26.6, 26.0, 25.4, 24.8, 24.6, 24.4, 23.3, 21.3, 19.8, 19.2, 18.9, 18.7, 18.55, 18.4, 18.3, 18.2, 18.1],
    [27.7, 27.6, 26.2, 25.2, 24.8, 24.6, 24.5, 24.4, 22.6, 20.4, 19.5, 19.1, 18.85, 18.6, 18.45, 18.35, 18.3],
    [27.4, 27.2, 26.6, 25.6, 24.9, 24.7, 24.5, 24.35, 24.2, 21.8, 19.8, 19.3, 18.95, 18.8],
    [27.2, 26.8, 25.8, 25.0, 24.7, 24.55, 24.4, 24.3, 24.2, 24.15],
    [24.2, 23.7, 22.9, 21.8, 20.9, 20.2, 19.6, 19.2, 18.9, 18.7, 18.55, 18.4, 18.3, 18.2, 18.1, 18.05, 18.0],
    [24.8, 24.4, 23.8, 23.0, 22.3, 21.4, 20.6, 19.9, 19.3, 19.0, 18.8, 18.6, 18.45, 18.3, 18.2, 18.1, 18.05],
    [25.5, 25.1, 24.5, 23.8, 23.0, 22.2, 21.3, 20.4, 19.7, 19.25, 18.95, 18.7, 18.55, 18.4, 18.25, 18.15, 18.1],
    [26.0, 25.6, 24.9, 24.5, 24.1, 23.5, 22.6, 21.5, 20.4, 19.6, 19.15, 18.85, 18.65, 18.45, 18.3, 18.2, 18.1],
    [26.4, 25.9, 25.2, 24.7, 24.5, 24.3, 24.0, 23.2, 21.6, 20.3, 19.5, 19.05, 18.8, 18.55, 18.4, 18.25, 18.15],
    [25.2, 24.8, 24.2, 23.5, 22.6, 21.8, 21.0, 20.2, 19.5, 19.1, 18.85, 18.65, 18.5, 18.35, 18.2, 18.1, 18.05],
    [24.5, 24.0, 23.3, 22.4, 21.4, 20.6, 19.9, 19.4, 19.0, 18.8, 18.6, 18.45, 18.3, 18.2, 18.1, 18.0, 17.95],
    [25.8, 25.3, 24.7, 24.2, 23.5, 22.8, 22.0, 21.0, 20.0, 19.4, 19.0, 18.75, 18.6, 18.4, 18.25, 18.15, 18.1],
    [26.8, 26.3, 25.5, 24.9, 24.6, 24.5, 24.4, 24.3, 23.8, 21.5, 20.2, 19.6, 19.45],
    [25.1, 24.7, 24.1, 23.2, 22.0, 20.9, 20.1, 19.5, 19.05, 18.8, 18.6, 18.45, 18.3, 18.15, 18.05, 17.95, 17.9],
    [24.1, 23.8, 23.0, 22.3, 21.2, 20.1, 19.4, 19.0, 18.75, 18.55, 18.4, 18.3, 18.2, 18.1, 18.0, 17.9, 17.85],
    [24.4, 24.0, 23.1, 21.6, 20.4, 19.6, 19.1, 18.8, 18.6, 18.45, 18.35, 18.2, 18.1, 18.0, 17.9, 17.8],
    [25.4, 25.0, 24.4, 23.6, 22.5, 21.2, 20.2, 19.6, 19.2, 19.0, 18.9, 18.8, 18.75, 18.7, 18.65, 18.55, 18.5],
    [26.0, 25.5, 24.8, 24.4, 23.9, 23.0, 21.5, 20.2, 19.4, 19.0, 18.75, 18.55, 18.4, 18.3, 18.2, 18.1, 18.05],
    [24.9, 24.3, 23.2, 22.0, 21.0, 20.3, 19.7, 19.3, 19.0, 18.8, 18.65, 18.5, 18.35, 18.2, 18.1, 18.0, 17.95],
    [25.7, 25.0, 24.2, 23.2, 22.4, 21.5, 20.7, 20.0, 19.4, 19.05, 18.85, 18.65, 18.5, 18.35, 18.2, 18.1, 18.05],
    [26.1, 25.7, 25.0, 24.5, 24.4, 24.2, 23.7, 22.8, 21.0, 19.9, 19.3, 18.95, 18.7, 18.5, 18.35, 18.2, 18.1],
    [26.5, 26.2, 25.5, 24.9, 24.6, 24.5, 24.4, 24.3, 23.2, 20.9, 19.8, 19.2, 18.9, 18.6, 18.4, 18.3, 18.2],
    [24.7, 24.1, 23.5, 22.9, 22.1, 21.2, 20.4, 19.7, 19.2, 18.9, 18.7, 18.5, 18.4, 18.25, 18.1, 18.05, 18.0],
    [25.3, 24.6, 23.7, 22.6, 21.7, 20.8, 20.0, 19.5, 19.1, 18.85, 18.65, 18.5, 18.35, 18.2, 18.1, 18.0, 17.95],
    [27.3, 26.9, 26.0, 25.3, 24.9, 24.6, 24.5, 24.35, 23.9, 22.0, 20.3, 19.4, 19.0, 18.7, 18.5, 18.35, 18.25],
    [25.9, 25.4, 24.8, 24.3, 23.8, 23.0, 22.2, 21.2, 20.2, 19.5, 19.1, 18.8, 18.6, 18.4, 18.25, 18.15, 18.1],
    [24.5, 24.1, 23.6, 23.0, 22.3, 21.4, 20.4, 19.6, 19.1, 18.8, 18.6, 18.45, 18.3, 18.2, 18.1, 18.0, 17.95],
    [26.3, 25.8, 25.1, 24.6, 24.4, 24.1, 23.4, 22.3, 20.9, 20.0, 19.4, 19.0, 18.75, 18.5, 18.35, 18.2, 18.1],
]

TITLES = ["Mayis 10", "Haziran 10", "Eylül 10",
          "Ekim 10", "Kasim 10", "Aralik 10",
          "Ocak 11", "Subat 11", "March 11",
          "Nisan 11", "Mayis 11", "Haziran 11"]
X_TITLE = "Temperature [ITS-90, deg C]"
Y_TITLE = "Depth [salt water, m]"


def grid_profiles(temps_list, depths):
    return [(t, depths[:len(t)]) for t in temps_list]


PANEL_DATA = [
    (MAYIS10, 4), (grid_profiles(HAZIRAN10_T, HAZIRAN10_D), 5), (EYLUL10, 4),
    (grid_profiles(EKIM10_T, EKIM10_D), 5), (KASIM10, "std"), (ARALIK10, "std"),
    (OCAK11, "std"), (SUBAT11, "std"), (MARCH11, "std"),
    (NISAN11, "std"), (grid_profiles(MAYIS11_T, MAYIS11_D), 5), (grid_profiles(HAZIRAN11_T, HAZIRAN11_D), 5),
]

# ---------------- LAYOUT (page pixels; body margin removed below) ----------------
W, H = 1731, 1056
COLS_PX = [(32, 577), (611, 1157), (1192, 1731)]
ROWS_PX = [(19, 240.7), (276, 499), (535, 757.7), (807.7, 1030)]
TITLE_Y_PX = [10, 267, 528, 798]
TITLE_X_PX = [300, 881, 1460]


def px_x(p):
    return min(max(p / W, 0.0), 1.0)


def px_y(p):
    return min(max(1 - p / H, 0.0), 1.0)


FONT = "Liberation Sans, Arial, sans-serif"
LINE_COLOR = "#141414"

fig = go.Figure()
annotations = []

for k, (title, (profiles, mode)) in enumerate(zip(TITLES, PANEL_DATA)):
    r, c = divmod(k, 3)
    x0, x1 = COLS_PX[c]
    top, bot = ROWS_PX[r]
    xr = [15, 31]
    ty = TITLE_Y_PX[r]
    tx = TITLE_X_PX[c]
    if c == 2 and r < 3:
        xr = [15, 15 + (x1 - x0) / 34.06]
    if k == 11:
        x0, x1 = 1191, 1722
        top, bot = 815.7, 1030.7
        ty = 807
        tx = 1452
    idx = "" if k == 0 else str(k + 1)
    xa, ya = "x" + idx, "y" + idx

    mx, my = [], []
    for j, (temps, depths) in enumerate(profiles):
        fig.add_trace(go.Scatter(
            x=temps, y=depths, mode="lines", xaxis=xa, yaxis=ya,
            line=dict(color=LINE_COLOR, width=0.8), hoverinfo="skip", showlegend=False))
        for i, (t, d) in enumerate(zip(temps, depths)):
            if mode == "std":
                ok = any(abs(d - s) < 1e-6 for s in STD_DEPTHS)
            else:
                ok = i == 0 or (i + j) % mode == 0
            if ok:
                mx.append(t)
                my.append(d)
    fig.add_trace(go.Scatter(
        x=mx, y=my, mode="markers", xaxis=xa, yaxis=ya,
        marker=dict(symbol="square", size=2.8, color="#000000"),
        hoverinfo="skip", showlegend=False))

    fig.layout["xaxis" + idx] = dict(
        domain=[px_x(x0), px_x(x1)], anchor=ya, range=xr,
        tick0=16, dtick=2, ticks="outside", ticklen=4, tickcolor="#666666", tickwidth=1,
        tickfont=dict(family=FONT, size=6, color="#444444"),
        showline=True, linecolor="#8a8a8a", linewidth=1, mirror=True,
        showgrid=False, zeroline=False, automargin=False,
        minor=dict(dtick=0.5, ticks="outside", ticklen=3, tickcolor="#666666", showgrid=False),
        title=dict(text=X_TITLE, font=dict(family=FONT, size=6, color="#333333"), standoff=1),
    )
    fig.layout["yaxis" + idx] = dict(
        domain=[px_y(bot), px_y(top)], anchor=xa, range=[150, 0],
        tick0=0, dtick=20, ticks="outside", ticklen=4, tickcolor="#666666", tickwidth=1,
        tickfont=dict(family=FONT, size=6, color="#444444"),
        showline=True, linecolor="#8a8a8a", linewidth=1, mirror=True,
        showgrid=False, zeroline=False, automargin=False,
        minor=dict(dtick=5, ticks="outside", ticklen=2, tickcolor="#666666", showgrid=False),
        title=dict(text=Y_TITLE, font=dict(family=FONT, size=7, color="#333333"), standoff=2),
    )
    annotations.append(dict(
        text=title, x=px_x(tx), y=px_y(ty), xref="paper", yref="paper",
        xanchor="center", yanchor="middle", showarrow=False,
        font=dict(family=FONT, size=11, color="#111111")))

fig.update_layout(
    width=W, height=H, margin=dict(l=0, r=0, t=0, b=0),
    paper_bgcolor="white", plot_bgcolor="white",
    annotations=annotations, showlegend=False, hovermode=False,
)

fig.write_html(
    "out.html",
    config={"displayModeBar": False, "staticPlot": True},
    post_script="document.body.style.margin='0px';document.body.style.overflow='hidden';",
)
